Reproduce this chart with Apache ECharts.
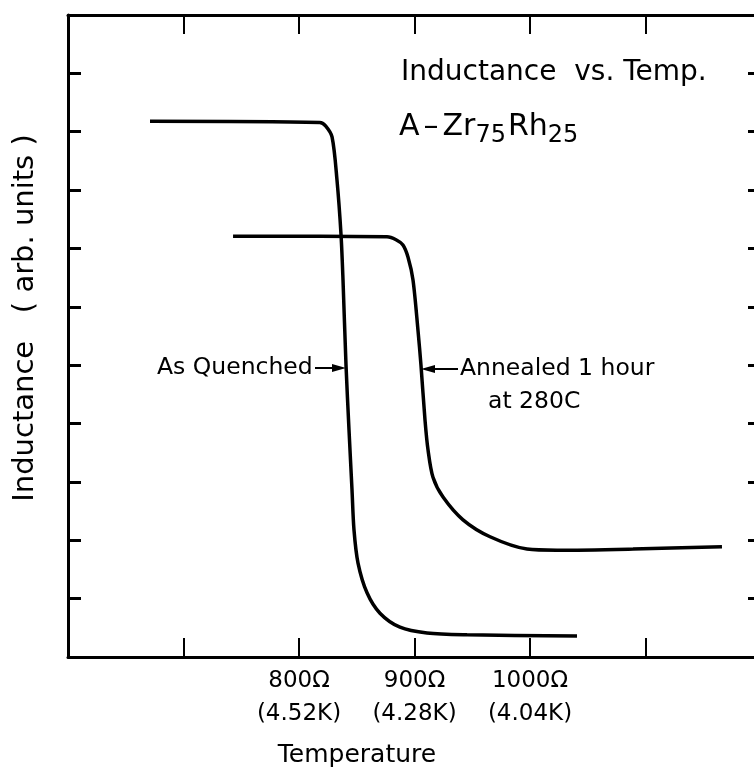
<!DOCTYPE html>
<html><head><meta charset="utf-8">
<script src="https://cdn.jsdelivr.net/npm/echarts@6/dist/echarts.min.js"></script>
<style>html,body{margin:0;padding:0;background:#fff}#c{width:754px;height:781px}</style>
</head><body><div id="c"></div>
<script>
// Data (resistance in ohms -> inductance, arb. units)
const quenchedX = [671, 818, 823, 828.6, 832.9, 836.4, 838.1, 840.7, 843.3, 845.9, 847.6, 851.1, 858.9, 870.1, 887.4, 910.8, 945.5, 1040.7];
const quenchedY = [9.18, 9.16, 9.10, 8.91, 8.17, 7.23, 6.46, 5.00, 3.89, 2.86, 2.18, 1.61, 1.10, 0.75, 0.51, 0.41, 0.38, 0.36];
const annealedX = [742.9, 876.2, 884.0, 890.0, 894.4, 898.7, 903.0, 905.6, 909.1, 911.7, 916.0, 924.7, 942.0, 965.4, 997.4, 1023.4, 1089.2, 1166.2];
const annealedY = [7.21, 7.20, 7.15, 7.06, 6.85, 6.46, 5.60, 5.00, 4.06, 3.55, 3.08, 2.74, 2.35, 2.06, 1.85, 1.83, 1.85, 1.89];
const xTickValues = [800, 900, 1000];
const xTickOhm = ['800Ω', '900Ω', '1000Ω'];
const xTickKelvin = ['(4.52K)', '(4.28K)', '(4.04K)'];

const FONT = 'DejaVu Sans';
const zip = (xs, ys) => xs.map((x, i) => [x, ys[i]]);
const chart = echarts.init(document.getElementById('c'), null, {renderer: 'canvas'});

const axisLineStyle = {color: '#000', width: 3};
const tickX = {show: true, inside: true, length: 19, lineStyle: {color: '#000', width: 2}};
const tickY = {show: true, inside: true, length: 13, lineStyle: {color: '#000', width: 3}};
const option = {
  backgroundColor: '#fff',
  animation: false,
  grid: {left: 68, top: 15, width: 693, height: 642, outerBoundsMode: 'none', containLabel: false},
  xAxis: [{
    type: 'value', min: 600, max: 1200, interval: 100, position: 'bottom',
    axisLine: {show: true, onZero: false, lineStyle: axisLineStyle},
    axisTick: tickX, splitLine: {show: false},
    axisLabel: {
      show: true, margin: 8, color: '#000', fontFamily: FONT,
      formatter: v => {
        const i = xTickValues.indexOf(v);
        return i < 0 ? '' : '{a|' + xTickOhm[i] + '}\n{b|' + xTickKelvin[i] + '}';
      },
      rich: {
        a: {fontSize: 23, fontFamily: FONT, color: '#000', lineHeight: 33},
        b: {fontSize: 23, fontFamily: FONT, color: '#000', lineHeight: 33}
      }
    }
  }, {
    type: 'value', min: 600, max: 1200, interval: 100, position: 'top',
    axisLine: {show: true, onZero: false, lineStyle: axisLineStyle},
    axisTick: tickX, splitLine: {show: false}, axisLabel: {show: false}
  }],
  yAxis: [{
    type: 'value', min: 0, max: 11, interval: 1, position: 'left',
    axisLine: {show: true, onZero: false, lineStyle: axisLineStyle},
    axisTick: tickY, splitLine: {show: false}, axisLabel: {show: false}
  }, {
    type: 'value', min: 0, max: 11, interval: 1, position: 'right',
    axisLine: {show: true, onZero: false, lineStyle: axisLineStyle},
    axisTick: tickY, splitLine: {show: false}, axisLabel: {show: false}
  }],
  series: [{
    name: 'As Quenched', type: 'line', data: zip(quenchedX, quenchedY),
    showSymbol: false, smooth: 0.3,
    lineStyle: {color: '#000', width: 3.5}
  }, {
    name: 'Annealed 1 hour at 280C', type: 'line', data: zip(annealedX, annealedY),
    showSymbol: false, smooth: 0.3,
    lineStyle: {color: '#000', width: 3.5}
  }],
  graphic: [
    {type: 'text', x: 401, y: 73, style: {text: 'Inductance  vs. Temp.', fontSize: 28, fontFamily: FONT, fill: '#000', verticalAlign: 'middle'}},
    {type: 'text', x: 399, y: 127, style: {
      text: '{m|A}{d|–}{m|Zr}{s|75}{m|Rh}{s|25}', fill: '#000', verticalAlign: 'middle',
      rich: {
        m: {fontSize: 30, fontFamily: FONT, fill: '#000'},
        d: {fontSize: 30, fontFamily: FONT, fill: '#000', padding: [0, 4, 0, 4]},
        s: {fontSize: 24, fontFamily: FONT, fill: '#000', padding: [18, 2, 0, 0]}
      }
    }},
    {type: 'text', x: 157, y: 368, style: {text: 'As Quenched', fontSize: 23.5, fontFamily: FONT, fill: '#000', verticalAlign: 'middle'}},
    {type: 'line', shape: {x1: 315, y1: 368, x2: 334, y2: 368}, style: {stroke: '#000', lineWidth: 2}},
    {type: 'polygon', shape: {points: [[346, 368], [332, 364], [332, 372]]}, style: {fill: '#000'}},
    {type: 'polygon', shape: {points: [[421, 369], [435, 365], [435, 373]]}, style: {fill: '#000'}},
    {type: 'line', shape: {x1: 433, y1: 369, x2: 458, y2: 369}, style: {stroke: '#000', lineWidth: 2}},
    {type: 'text', x: 460, y: 369, style: {text: 'Annealed 1 hour', fontSize: 23.5, fontFamily: FONT, fill: '#000', verticalAlign: 'middle'}},
    {type: 'text', x: 488, y: 402, style: {text: 'at 280C', fontSize: 23.5, fontFamily: FONT, fill: '#000', verticalAlign: 'middle'}},
    {type: 'text', x: 357, y: 755, style: {text: 'Temperature', fontSize: 25, fontFamily: FONT, fill: '#000', align: 'center', verticalAlign: 'middle'}},
    {type: 'text', x: 25, y: 318, rotation: Math.PI / 2, style: {text: 'Inductance   ( arb. units )', fontSize: 29, fontFamily: FONT, fill: '#000', align: 'center', verticalAlign: 'middle'}}
  ]
};
chart.setOption(option);
</script></body></html>
